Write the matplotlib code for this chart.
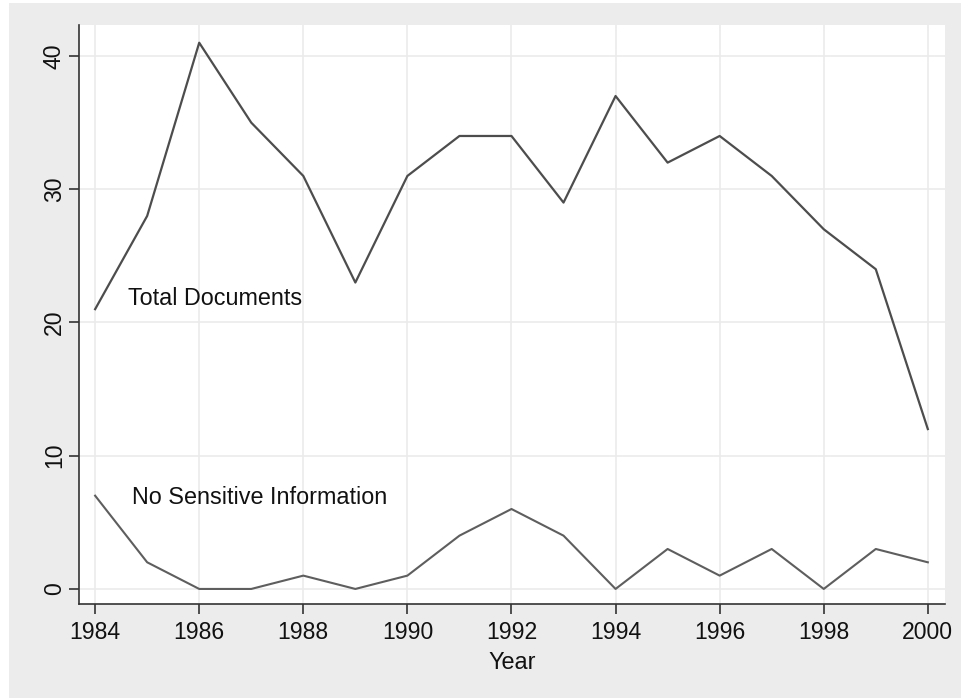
import matplotlib
matplotlib.use("Agg")
import matplotlib.pyplot as plt
from matplotlib.patches import Rectangle

# yearly counts
years = list(range(1984, 2001))
total_documents = [21, 28, 41, 35, 31, 23, 31, 34, 34, 29, 37, 32, 34, 31, 27, 24, 12]
no_sensitive = [7, 2, 0, 0, 1, 0, 1, 4, 6, 4, 0, 3, 1, 3, 0, 3, 2]

x_ticks = list(range(1984, 2001, 2))
y_ticks = [0, 10, 20, 30, 40]

plt.rcParams['font.family'] = ['Liberation Sans', 'DejaVu Sans']

W, H = 961, 698
fig = plt.figure(figsize=(W / 100, H / 100), dpi=100)
fig.patch.set_facecolor('white')
# light gray graph region
fig.add_artist(Rectangle((9 / W, 0), 1, (H - 3) / H, transform=fig.transFigure,
                         facecolor='#ececec', edgecolor='none', zorder=0))

ax = fig.add_axes([79 / W, (H - 604) / H, (945 - 79) / W, (604 - 25) / H])
ax.set_facecolor('white')

ax.plot(years, total_documents, color='#4d4d4d', lw=1.6, zorder=3)
ax.plot(years, no_sensitive, color='#5e5e5e', lw=1.5, zorder=3)

ax.text(1984.63, 21.8, 'Total Documents', fontsize=16.8, va='center', ha='left', color='#111111')
ax.text(1984.71, 6.9, 'No Sensitive Information', fontsize=16.8, va='center', ha='left', color='#111111')

ax.set_xlim(1983.69, 2000.33)
ax.set_ylim(-1.13, 42.33)
ax.set_xticks(x_ticks)
ax.set_yticks(y_ticks)
ax.grid(True, color='#ebebeb', lw=1.2, zorder=0)
ax.set_axisbelow(True)

for side in ('top', 'right'):
    ax.spines[side].set_visible(False)
for side in ('left', 'bottom'):
    ax.spines[side].set_color('#333333')
    ax.spines[side].set_linewidth(1.2)

ax.tick_params(axis='both', direction='out', length=7, width=1.2, color='#333333',
               labelsize=16.6, labelcolor='#111111')
ax.tick_params(axis='x', pad=5.5)
ax.tick_params(axis='y', pad=2.5)
for lbl in ax.get_yticklabels():
    lbl.set_rotation(90)
    lbl.set_va('center')

ax.set_xlabel('Year', fontsize=16.8, color='#111111', labelpad=5)

fig.savefig('out.png', dpi=100)
